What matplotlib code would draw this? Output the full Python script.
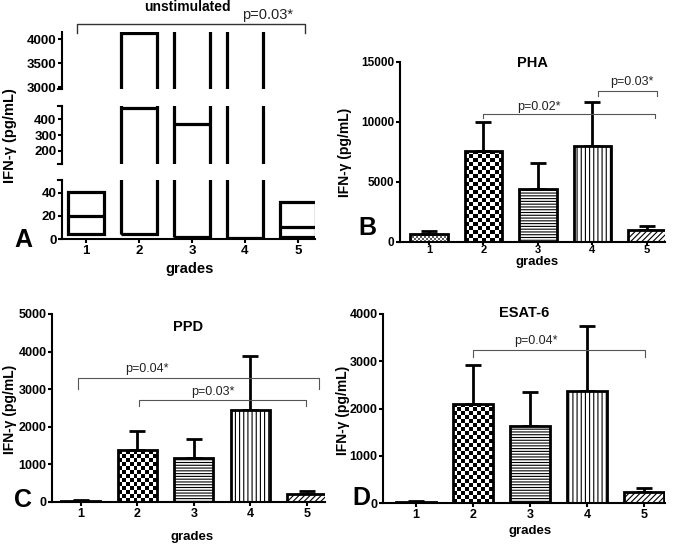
import numpy as np
import matplotlib
matplotlib.use('Agg')
import matplotlib.pyplot as plt

plt.rcParams['font.family'] = ['Liberation Sans', 'DejaVu Sans']
plt.rcParams['font.weight'] = 'bold'
plt.rcParams['hatch.linewidth'] = 0.8

# data
grades = [1, 2, 3, 4, 5]

# unstimulated: min / median / max (floating bars)
unstim_min = [4, 4, 2, 0, 1.5]
unstim_median = [20, 470, 370, 0.5, 10]
unstim_max = [41, 4120, 4500, 4500, 32]

pha_mean = [650, 7600, 4450, 8000, 1000]
pha_err = [250, 2400, 2100, 3650, 350]

ppd_mean = [30, 1380, 1160, 2460, 200]
ppd_err = [15, 500, 510, 1430, 80]

esat_mean = [30, 2100, 1620, 2380, 230]
esat_err = [10, 830, 730, 1360, 80]

# significance brackets: (x1, x2, y, drop, label, text x, text y)
pha_brackets = [(2.0, 5.15, 10700, 350, 'p=0.02*', 3.02, 11250),
                (4.1, 5.18, 12600, 400, 'p=0.03*', 4.72, 13300)]
ppd_brackets = [(0.95, 5.21, 3300, 290, 'p=0.04*', 2.17, 3540),
                (2.03, 4.98, 2700, 160, 'p=0.03*', 3.34, 2930)]
esat_brackets = [(2.0, 5.02, 3240, 140, 'p=0.04*', 3.1, 3430)]

W, H = 675, 544
fig = plt.figure(figsize=(W / 100, H / 100), dpi=100)


def px_axes(left, top, right, bottom):
    return fig.add_axes([left / W, 1 - bottom / H, (right - left) / W, (bottom - top) / H])


def style(ax, fs=9):
    for s in ['top', 'right']:
        ax.spines[s].set_visible(False)
    for s in ['left', 'bottom']:
        ax.spines[s].set_linewidth(1.5)
    ax.tick_params(direction='out', length=3, width=1.5, labelsize=fs, pad=1)


def checker(ax, bar, cell, light=False):
    bb = bar.get_window_extent()
    nx = max(1, int(round(bb.width / cell)))
    ny = max(1, int(round(bb.height / cell)))
    img = np.indices((ny, nx)).sum(axis=0) % 2
    x0, w, h = bar.get_x(), bar.get_width(), bar.get_height()
    im = ax.imshow(img, cmap='gray', vmin=-0.6 if light else 0, vmax=1,
                   extent=(x0, x0 + w, 0, h), aspect='auto',
                   interpolation='nearest', zorder=0.8)
    im.set_clip_path(bar)


def bar_panel(ax, means, errs, xlim, ylim, yticks, title, title_y, brackets, fs=9):
    style(ax, fs)
    bars = ax.bar(grades, means, width=0.69, color='white', edgecolor='black',
                  linewidth=2, zorder=1)
    bars[0].set_facecolor('none')
    bars[1].set_facecolor('none')
    bars[2].set_hatch('------')
    bars[3].set_hatch('||||')
    bars[4].set_hatch('//////')
    ax.errorbar(grades, means, yerr=[np.zeros(len(errs)), errs], fmt='none',
                ecolor='black', elinewidth=2, capsize=5.5, capthick=2, zorder=0.9)
    ax.set_xlim(*xlim)
    ax.set_ylim(*ylim)
    ax.set_yticks(yticks)
    ax.set_xticks(grades)
    checker(ax, bars[0], 2, light=True)
    checker(ax, bars[1], 4)
    ax.set_xlim(*xlim)
    ax.set_ylim(*ylim)
    for x1, x2, y, d, lab, tx, ty in brackets:
        ax.plot([x1, x1, x2, x2], [y - d, y, y, y - d], color='#555555', lw=0.8,
                clip_on=False)
        ax.text(tx, ty, lab, ha='center', va='center', fontsize=9,
                fontweight='normal', color='#222222')
    ax.text(0.5, title_y, title, transform=ax.transAxes, ha='center', va='center',
            fontsize=10.5)


# panel B
axB = px_axes(400, 62, 665, 242)
bar_panel(axB, pha_mean, pha_err, (0.47, 5.33), (0, 15000), [0, 5000, 10000, 15000],
          'PHA', 0.995, pha_brackets, fs=8.5)
axB.tick_params(axis='x', length=2, pad=0.5, labelsize=8)
# panel C
axC = px_axes(52, 314, 325, 502)
bar_panel(axC, ppd_mean, ppd_err, (0.49, 5.32), (0, 5000), [0, 1000, 2000, 3000, 4000, 5000],
          'PPD', 0.93, ppd_brackets)
# panel D
axD = px_axes(383, 314, 665, 503)
bar_panel(axD, esat_mean, esat_err, (0.42, 5.37), (0, 4000), [0, 1000, 2000, 3000, 4000],
          'ESAT-6', 1.005, esat_brackets)

# panel A: broken axis
a_top = px_axes(62, 32, 315, 89)
a_mid = px_axes(62, 106, 315, 164)
a_bot = px_axes(62, 180, 315, 239)
segments = [(a_top, (2960, 4150), [3000, 3500, 4000]),
            (a_mid, (115, 485), [200, 300, 400]),
            (a_bot, (0, 51), [0, 20, 40])]
heights = [mx - mn for mn, mx in zip(unstim_min, unstim_max)]
for ax, lim, ticks in segments:
    style(ax, 9.5)
    ax.bar(grades, heights, bottom=unstim_min, width=0.68, fill=False,
           edgecolor='black', linewidth=2.3)
    ax.hlines(unstim_median, np.array(grades) - 0.34, np.array(grades) + 0.34,
              color='black', lw=2.3)
    ax.set_xlim(0.55, 5.32)
    ax.set_ylim(*lim)
    ax.set_yticks(ticks)
    tr = ax.get_yaxis_transform()
    if ax is not a_top:
        ax.plot([-0.014, 0], [lim[1], lim[1]], transform=tr, color='black',
                lw=1.5, clip_on=False)
    if ax is not a_bot:
        ax.plot([-0.014, 0], [lim[0], lim[0]], transform=tr, color='black',
                lw=1.5, clip_on=False)
        ax.spines['bottom'].set_visible(False)
        ax.set_xticks([])
    else:
        ax.set_xticks(grades)

a_top.plot([0.83, 0.83, 5.13, 5.13], [4130, 4317, 4317, 4130], color='#333333',
           lw=1, clip_on=False)
a_top.text(4.42, 4510, 'p=0.03*', ha='center', va='center', fontsize=10.5,
           fontweight='normal', color='#222222')
fig.text(187 / W, 1 - 7 / H, 'unstimulated', ha='center', va='center', fontsize=10)

# axis labels
ylab = 'IFN-γ (pg/mL)'
fig.text(10 / W, 1 - 136 / H, ylab, rotation=90, ha='center', va='center', fontsize=10.5)
fig.text(345 / W, 1 - 152 / H, ylab, rotation=90, ha='center', va='center', fontsize=10)
fig.text(10 / W, 1 - 409 / H, ylab, rotation=90, ha='center', va='center', fontsize=10)
fig.text(343 / W, 1 - 410 / H, ylab, rotation=90, ha='center', va='center', fontsize=10)
for x, y, fs in [(190, 269, 10.5), (537, 262, 9.5), (192, 537, 9.5), (530, 531, 9.5)]:
    fig.text(x / W, 1 - y / H, 'grades', ha='center', va='center', fontsize=fs)

# panel letters
for x, y, l in [(23, 240, 'A'), (367, 228, 'B'), (23, 500, 'C'), (361, 498, 'D')]:
    fig.text(x / W, 1 - y / H, l, ha='center', va='center', fontsize=18)

fig.savefig('out.png', dpi=100)
